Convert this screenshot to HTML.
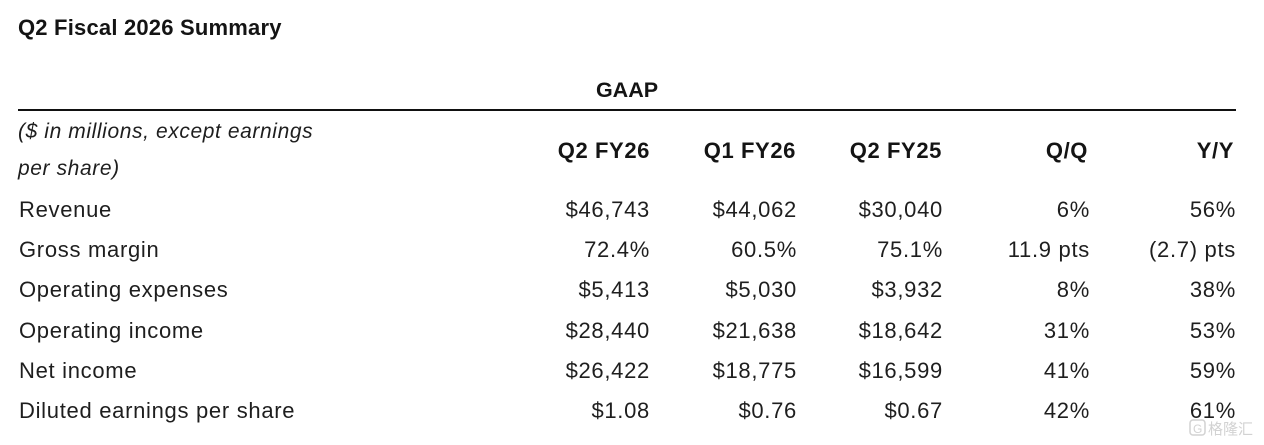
<!DOCTYPE html>
<html>
<head>
<meta charset="utf-8">
<style>
  html,body{margin:0;padding:0;background:#fff;}
  body{width:1264px;height:445px;overflow:hidden;}
  svg{display:block;}
  .t{font-family:"Liberation Sans",sans-serif;font-weight:bold;font-size:22px;fill:#141414;letter-spacing:0.2px;}
  .g{font-family:"Liberation Sans",sans-serif;font-weight:bold;font-size:21.5px;fill:#141414;}
  .h{font-family:"Liberation Sans",sans-serif;font-weight:bold;font-size:22px;fill:#141414;letter-spacing:0.6px;}
  .i{font-family:"Liberation Sans",sans-serif;font-style:italic;font-size:21px;fill:#1e1e1e;letter-spacing:0.6px;}
  .r{font-family:"Liberation Sans",sans-serif;font-size:22px;fill:#1e1e1e;letter-spacing:0.7px;}
  .w{font-family:"Liberation Sans","Noto Sans CJK SC",sans-serif;font-size:15px;fill:#d2d2d2;}
</style>
</head>
<body>
<svg width="1264" height="445" viewBox="0 0 1264 445" xmlns="http://www.w3.org/2000/svg">
  <text class="t" x="18" y="35">Q2 Fiscal 2026 Summary</text>
  <text class="g" x="627" y="97" text-anchor="middle">GAAP</text>
  <rect x="18" y="109" width="1218" height="2" fill="#111"/>

  <text class="i" x="18" y="138">($ in millions, except earnings</text>
  <text class="i" x="18" y="175">per share)</text>

  <g class="h" text-anchor="end">
    <text x="650" y="158">Q2 FY26</text>
    <text x="796" y="158">Q1 FY26</text>
    <text x="942" y="158">Q2 FY25</text>
    <text x="1088" y="158">Q/Q</text>
    <text x="1234" y="158">Y/Y</text>
  </g>

  <g class="r">
    <text x="19" y="217">Revenue</text>
    <text x="19" y="257">Gross margin</text>
    <text x="19" y="297">Operating expenses</text>
    <text x="19" y="338">Operating income</text>
    <text x="19" y="378">Net income</text>
    <text x="19" y="418">Diluted earnings per share</text>
  </g>

  <g class="r" text-anchor="end">
    <text x="650" y="217">$46,743</text>
    <text x="797" y="217">$44,062</text>
    <text x="943" y="217">$30,040</text>
    <text x="1090" y="217">6%</text>
    <text x="1236" y="217">56%</text>

    <text x="650" y="257">72.4%</text>
    <text x="797" y="257">60.5%</text>
    <text x="943" y="257">75.1%</text>
    <text x="1090" y="257">11.9 pts</text>
    <text x="1236" y="257">(2.7) pts</text>

    <text x="650" y="297">$5,413</text>
    <text x="797" y="297">$5,030</text>
    <text x="943" y="297">$3,932</text>
    <text x="1090" y="297">8%</text>
    <text x="1236" y="297">38%</text>

    <text x="650" y="338">$28,440</text>
    <text x="797" y="338">$21,638</text>
    <text x="943" y="338">$18,642</text>
    <text x="1090" y="338">31%</text>
    <text x="1236" y="338">53%</text>

    <text x="650" y="378">$26,422</text>
    <text x="797" y="378">$18,775</text>
    <text x="943" y="378">$16,599</text>
    <text x="1090" y="378">41%</text>
    <text x="1236" y="378">59%</text>

    <text x="650" y="418">$1.08</text>
    <text x="797" y="418">$0.76</text>
    <text x="943" y="418">$0.67</text>
    <text x="1090" y="418">42%</text>
    <text x="1236" y="418">61%</text>
  </g>

  <!-- faint watermark -->
  <rect x="1190" y="420" width="15" height="15" rx="3" fill="none" stroke="#d2d2d2" stroke-width="1.5"/>
  <text class="w" x="1193" y="433" style="font-size:12px;">G</text>
  <text class="w" x="1208" y="434">格隆汇</text>
</svg>
</body>
</html>
